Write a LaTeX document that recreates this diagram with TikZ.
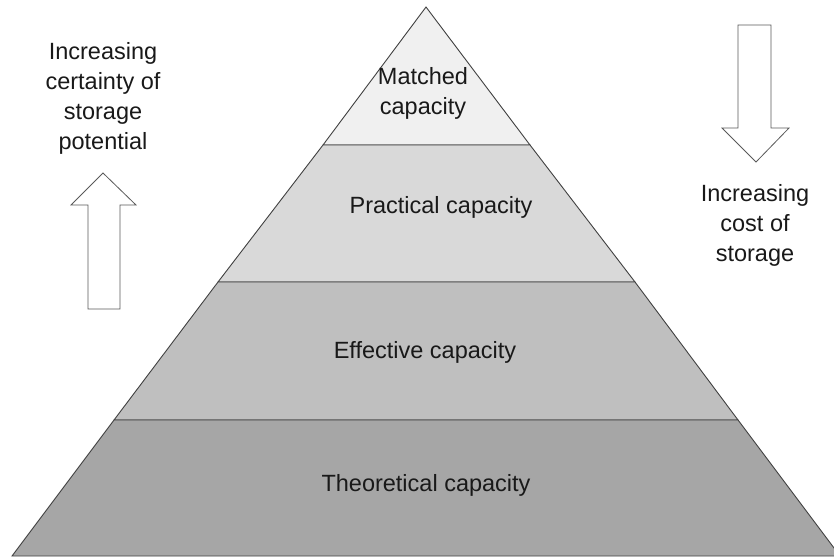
\documentclass[tikz,border=0pt]{standalone}
\usepackage{fontspec}
\setmainfont{Liberation Sans}
\begin{document}
\begin{tikzpicture}[x=1pt,y=-1pt,
  layer/.style={draw=black!75,line width=0.9pt,line join=miter},
  lbl/.style={font=\fontsize{23.5}{30}\selectfont,align=center,text=black!90,inner sep=0pt},
  bigarrow/.style={draw=black!65,line width=0.8pt,fill=white}]
\useasboundingbox (0,0) rectangle (834,558);
% pyramid corners and layer boundaries
\coordinate (apex) at (426,7);
\coordinate (l1) at (323,145); \coordinate (r1) at (530,145);
\coordinate (l2) at (218,282); \coordinate (r2) at (635,282);
\coordinate (l3) at (114,420); \coordinate (r3) at (738,420);
\coordinate (l4) at (12,556);  \coordinate (r4) at (840,556);
\begin{scope}
\clip (0,0) rectangle (834,558);
\filldraw[layer,fill=black!6]  (apex) -- (r1) -- (l1) -- cycle;
\filldraw[layer,fill=black!15] (l1) -- (r1) -- (r2) -- (l2) -- cycle;
\filldraw[layer,fill=black!25] (l2) -- (r2) -- (r3) -- (l3) -- cycle;
\filldraw[layer,fill=black!35] (l3) -- (r3) -- (r4) -- (l4) -- cycle;
\end{scope}
% layer labels
\node[lbl] (matched) at (423,93) {Matched\\capacity};
\node[lbl] (practical) at (441,207) {Practical capacity};
\node[lbl] (effective) at (425,352) {Effective capacity};
\node[lbl] (theoretical) at (426,485) {Theoretical capacity};
% left: upward block arrow
\filldraw[bigarrow] (88,309) -- (88,205) -- (71,205) -- (103,173) -- (136,205)
  -- (120,205) -- (120,309) -- cycle;
\node[lbl] (certainty) at (103,98) {Increasing\\certainty of\\storage\\potential};
% right: downward block arrow
\filldraw[bigarrow] (738,25) -- (738,128) -- (722,128) -- (756,162) -- (789,128)
  -- (771,128) -- (771,25) -- cycle;
\node[lbl] (cost) at (755,225) {Increasing\\cost of\\storage};
\end{tikzpicture}
\end{document}
